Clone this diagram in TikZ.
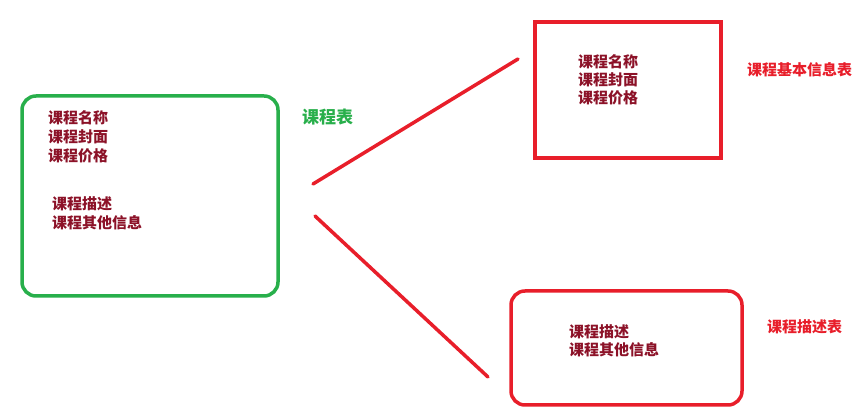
\documentclass[tikz,border=0pt]{standalone}
\usepackage{fontspec}
\newfontfamily\cjk{Noto Sans CJK SC}
\definecolor{boxgreen}{RGB}{40,175,75}
\definecolor{boxred}{RGB}{232,30,42}
\definecolor{fieldred}{RGB}{140,18,40}
\begin{document}
\begin{tikzpicture}[x=1pt,y=1pt,
  table/.style={draw, line width=3.5pt, inner sep=0pt},
  field/.style={anchor=west, inner sep=0pt, text=fieldred, font=\cjk\bfseries\fontsize{15}{18}\selectfont},
  tname/.style={anchor=west, inner sep=0pt, font=\cjk\bfseries\fontsize{15}{18}\selectfont},
  split/.style={draw=boxred, line width=3.5pt, line cap=round}]
\useasboundingbox[fill=white] (0,0) rectangle (864,419);

% the combined course table
\node[table, draw=boxgreen, rounded corners=14pt, minimum width=256pt, minimum height=200pt] (course) at (150,223) {};
\node[field] (c1) at (48,301) {课程名称};
\node[field] (c2) at (48,282) {课程封面};
\node[field] (c3) at (48,263) {课程价格};
\node[field] (c4) at (52,215) {课程描述};
\node[field] (c5) at (52,196) {课程其他信息};
\node[tname, text=boxgreen, font=\cjk\bfseries\fontsize{17}{20}\selectfont] (courselabel) at (302,302) {课程表};

% basic information table
\node[table, draw=boxred, minimum width=186pt, minimum height=136pt] (basic) at (628,329) {};
\node[field] (b1) at (578,357) {课程名称};
\node[field] (b2) at (578,339) {课程封面};
\node[field] (b3) at (578,321) {课程价格};
\node[tname, text=boxred] (basiclabel) at (747,349) {课程基本信息表};

% description table
\node[table, draw=boxred, rounded corners=14pt, minimum width=231pt, minimum height=114pt] (desc) at (626.5,71) {};
\node[field] (d1) at (569,87) {课程描述};
\node[field] (d2) at (569,69) {课程其他信息};
\node[tname, text=boxred] (desclabel) at (767,92) {课程描述表};

% split strokes
\coordinate (s1a) at (313,235);
\coordinate (s1b) at (518,360);
\coordinate (s2a) at (315,203);
\coordinate (s2b) at (488,42);
\draw[split] (s1a) -- (s1b);
\draw[split] (s2a) -- (s2b);
\end{tikzpicture}
\end{document}
